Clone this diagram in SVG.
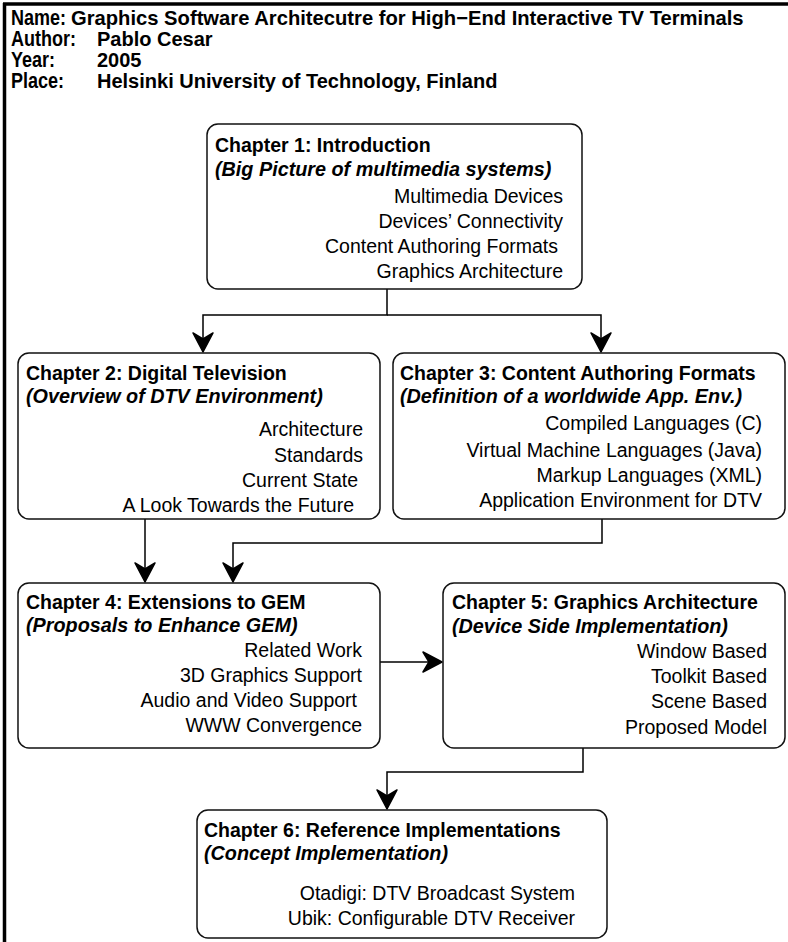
<svg xmlns="http://www.w3.org/2000/svg" width="788" height="942" viewBox="0 0 788 942">
  <defs>
    <marker id="arrow" markerUnits="userSpaceOnUse" markerWidth="24" markerHeight="24" viewBox="-21 -12 24 24" refX="0" refY="0" orient="auto">
      <polygon points="0,0 -19,-10 -13,0 -19,10" fill="#000" stroke="#000" stroke-width="1.5" stroke-linejoin="round"/>
    </marker>
  </defs>
  <style>
    .frame { stroke: #000; stroke-width: 3.5; fill: none; }
    .box { fill: #fff; stroke: #111; stroke-width: 1.5; }
    .link { fill: none; stroke: #000; stroke-width: 1.5; }
    text { font-family: "Liberation Sans", Arial, sans-serif; fill: #000; }
    .lbl { font-size: 22px; font-weight: bold; }
    .val { font-size: 20px; font-weight: bold; }
    .title { font-size: 19.5px; font-weight: bold; }
    .sub { font-size: 19.8px; font-weight: bold; font-style: italic; }
    .item { font-size: 19.5px; text-anchor: end; }
  </style>
  <rect width="788" height="942" fill="#fff"/>

  <!-- page frame (top and left rules) -->
  <g id="frame">
    <line class="frame" x1="3" y1="4" x2="788" y2="4"/>
    <line class="frame" x1="4.5" y1="3" x2="4.5" y2="942"/>
  </g>

  <!-- thesis header: narrow bold labels, regular-width bold values -->
  <g id="header">
    <text class="lbl" transform="translate(11,25) scale(0.82,1)">Name:</text>
    <text class="val" x="71" y="25" style="font-size:20.2px">Graphics Software Architecutre for High−End Interactive TV Terminals</text>
    <text class="lbl" transform="translate(11,46) scale(0.82,1)">Author:</text>
    <text class="val" x="97" y="46">Pablo Cesar</text>
    <text class="lbl" transform="translate(11,67) scale(0.82,1)">Year:</text>
    <text class="val" x="97" y="67">2005</text>
    <text class="lbl" transform="translate(11,88) scale(0.82,1)">Place:</text>
    <text class="val" x="97" y="88">Helsinki University of Technology, Finland</text>
  </g>

  <!-- connectors -->
  <g id="connectors">
    <polyline class="link" points="387,289 387,315 203,315 203,352" marker-end="url(#arrow)"/>
    <polyline class="link" points="387,315 601,315 601,352" marker-end="url(#arrow)"/>
    <polyline class="link" points="145,519 145,582" marker-end="url(#arrow)"/>
    <polyline class="link" points="602,519 602,543 233,543 233,582" marker-end="url(#arrow)"/>
    <polyline class="link" points="380,662 442,662" marker-end="url(#arrow)"/>
    <polyline class="link" points="583,748 583,772 387,772 387,809" marker-end="url(#arrow)"/>
  </g>

  <g id="chapter1">
    <rect class="box" x="207" y="124" width="375" height="165" rx="11"/>
    <text class="title" x="215" y="152">Chapter 1: Introduction</text>
    <text class="sub" x="215" y="176">(Big Picture of multimedia systems)</text>
    <text class="item" x="563" y="203">Multimedia Devices</text>
    <text class="item" x="563" y="228">Devices’ Connectivity</text>
    <text class="item" x="558" y="253">Content Authoring Formats</text>
    <text class="item" x="563" y="278">Graphics Architecture</text>
  </g>

  <g id="chapter2">
    <rect class="box" x="18" y="353" width="362" height="166" rx="11"/>
    <text class="title" x="26" y="380">Chapter 2: Digital Television</text>
    <text class="sub" x="26" y="403">(Overview of DTV Environment)</text>
    <text class="item" x="363" y="436">Architecture</text>
    <text class="item" x="363" y="462">Standards</text>
    <text class="item" x="358" y="487">Current State</text>
    <text class="item" x="354" y="512">A Look Towards the Future</text>
  </g>

  <g id="chapter3">
    <rect class="box" x="393" y="353" width="392" height="166" rx="11"/>
    <text class="title" x="400" y="380">Chapter 3: Content Authoring Formats</text>
    <text class="sub" x="400" y="403">(Definition of a worldwide App. Env.)</text>
    <text class="item" x="762" y="430">Compiled Languages (C)</text>
    <text class="item" x="762" y="457">Virtual Machine Languages (Java)</text>
    <text class="item" x="762" y="482">Markup Languages (XML)</text>
    <text class="item" x="762" y="507">Application Environment for DTV</text>
  </g>

  <g id="chapter4">
    <rect class="box" x="18" y="583" width="362" height="165" rx="11"/>
    <text class="title" x="26" y="609">Chapter 4: Extensions to GEM</text>
    <text class="sub" x="26" y="632">(Proposals to Enhance GEM)</text>
    <text class="item" x="362" y="657">Related Work</text>
    <text class="item" x="362" y="682">3D Graphics Support</text>
    <text class="item" x="357" y="707">Audio and Video Support</text>
    <text class="item" x="362" y="732">WWW Convergence</text>
  </g>

  <g id="chapter5">
    <rect class="box" x="443" y="583" width="342" height="165" rx="11"/>
    <text class="title" x="452" y="609">Chapter 5: Graphics Architecture</text>
    <text class="sub" x="452" y="633">(Device Side Implementation)</text>
    <text class="item" x="767" y="658">Window Based</text>
    <text class="item" x="767" y="683">Toolkit Based</text>
    <text class="item" x="767" y="708">Scene Based</text>
    <text class="item" x="767" y="734">Proposed Model</text>
  </g>

  <g id="chapter6">
    <rect class="box" x="197" y="810" width="410" height="128" rx="11"/>
    <text class="title" x="204" y="837">Chapter 6: Reference Implementations</text>
    <text class="sub" x="204" y="860">(Concept Implementation)</text>
    <text class="item" x="575" y="900">Otadigi: DTV Broadcast System</text>
    <text class="item" x="575" y="925">Ubik: Configurable DTV Receiver</text>
  </g>
</svg>
